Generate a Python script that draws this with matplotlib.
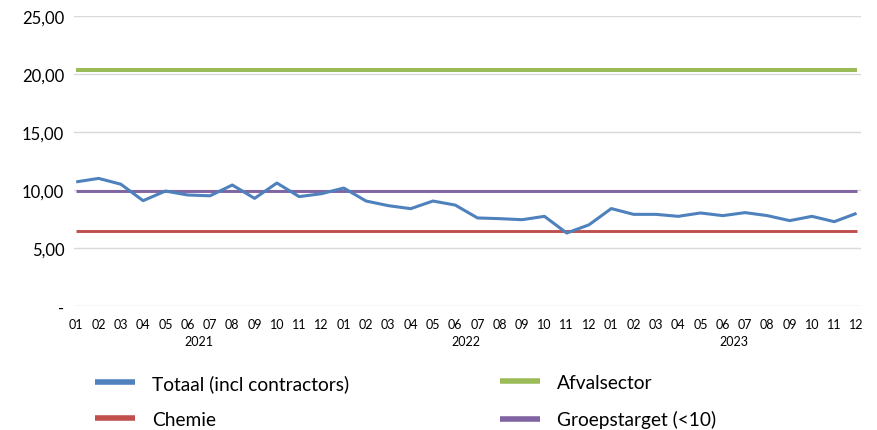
import matplotlib
matplotlib.use("Agg")
import matplotlib.pyplot as plt
from matplotlib.ticker import FixedLocator, FuncFormatter

plt.rcParams['font.family'] = ['Lato', 'DejaVu Sans']

months = ["01", "02", "03", "04", "05", "06", "07", "08", "09", "10", "11", "12"] * 3
years = ["2021", "2022", "2023"]

totaal = [10.7, 11.0, 10.5, 9.08, 9.91, 9.57, 9.5, 10.43, 9.28, 10.6, 9.43, 9.68,
          10.17, 9.05, 8.65, 8.39, 9.05, 8.7, 7.59, 7.53, 7.44, 7.73, 6.29, 7.0,
          8.4, 7.9, 7.9, 7.73, 8.02, 7.79, 8.05, 7.79, 7.36, 7.73, 7.27, 7.99]
afvalsector = [20.35] * 36
chemie = [6.5] * 36
groepstarget = [9.9] * 36

yticks = [0, 5, 10, 15, 20, 25]

W, H = 877, 431
fig = plt.figure(figsize=(W / 100, H / 100), dpi=100)
ax = fig.add_axes([74 / W, 1 - 307 / H, (861 - 74) / W, (307 - 17) / H])

x = list(range(len(totaal)))
l_tot, = ax.plot(x, totaal, color="#4F81BD", lw=2.2, solid_capstyle="butt", zorder=5)
l_afv, = ax.plot(x, afvalsector, color="#9BBB59", lw=2.9, solid_capstyle="butt", zorder=3)
l_che, = ax.plot(x, chemie, color="#C0504D", lw=2.1, solid_capstyle="butt", zorder=3)
l_grp, = ax.plot(x, groepstarget, color="#8064A2", lw=2.1, solid_capstyle="butt", zorder=3)

ax.set_ylim(0, 25)
ax.set_xlim(-0.1, 35.2)
ax.yaxis.set_major_locator(FixedLocator(yticks))
ax.yaxis.set_major_formatter(FuncFormatter(lambda v, p: "-" if v == 0 else f"{v:.2f}".replace(".", ",")))
ax.grid(axis="y", color="#D9D9D9", lw=1.0, zorder=0)
ax.set_axisbelow(True)
for s in ax.spines.values():
    s.set_visible(False)
ax.tick_params(axis="y", length=0, pad=7, labelsize=12, colors="#000000")
ax.tick_params(axis="x", length=0, pad=9, labelsize=9, colors="#000000")
ax.set_xticks(x)
ax.set_xticklabels(months)
for i, yr in enumerate(years):
    ax.text(12 * i + 5.5, -0.12, yr, transform=ax.get_xaxis_transform(),
            ha="center", va="center", fontsize=9, color="#000000")

kw = dict(frameon=False, fontsize=13.8, handlelength=2.1, handletextpad=0.88,
          labelspacing=1.0, borderpad=0, borderaxespad=0)
leg1 = fig.legend([l_tot, l_che], ["Totaal (incl contractors)", "Chemie"],
                  loc="upper left", bbox_to_anchor=(95 / W, 1 - 375 / H), **kw)
leg2 = fig.legend([l_afv, l_grp], ["Afvalsector", "Groepstarget (<10)"],
                  loc="upper left", bbox_to_anchor=(500 / W, 1 - 375 / H), **kw)
for leg in (leg1, leg2):
    for h in leg.get_lines():
        h.set_linewidth(4)

fig.savefig("out.png", dpi=100)
